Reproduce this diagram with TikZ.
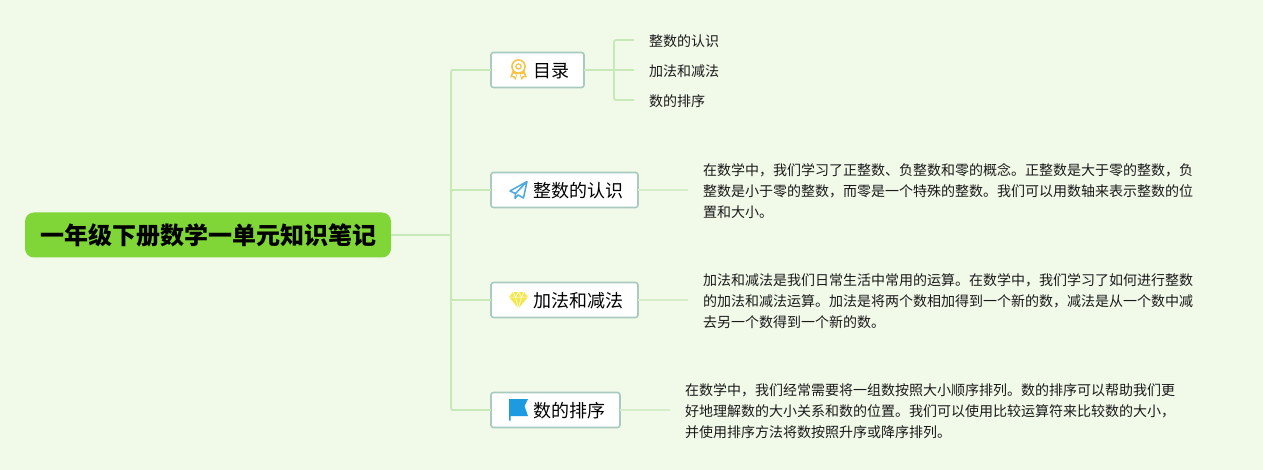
\documentclass[tikz,border=0pt]{standalone}
\usepackage{fontspec}
\setmainfont{Noto Sans CJK SC}
\definecolor{bgc}{HTML}{F1F9E9}
\definecolor{rootc}{HTML}{80D637}
\definecolor{boxline}{HTML}{A9CABF}
\definecolor{lnk}{HTML}{C6E9B7}
\definecolor{lnkb}{HTML}{D5EEC9}
\definecolor{medal}{HTML}{F6C445}
\definecolor{plane}{HTML}{4FA8E0}
\definecolor{gem}{HTML}{F5E84E}
\definecolor{flagc}{HTML}{1E9BE0}
\definecolor{ink}{HTML}{1A1A1A}
\tikzset{
  rootbox/.style={fill=rootc,rounded corners=9pt,minimum width=366pt,minimum height=45pt,inner sep=0pt,outer sep=0pt,
    font=\fontsize{24}{28}\selectfont\bfseries,text=black},
  mainbox/.style={draw=boxline,line width=1.6pt,fill=white,rounded corners=2.5pt,minimum height=35pt,inner sep=0pt,outer sep=0pt,anchor=north west},
  maintext/.style={font=\fontsize{18}{22}\selectfont,text=black,anchor=west,inner sep=0pt},
  subtext/.style={font=\fontsize{14}{18}\selectfont,text=ink,anchor=west,inner sep=0pt},
  longtext/.style={font=\fontsize{14}{21}\selectfont,text=ink,anchor=west,inner sep=0pt,align=left},
  link/.style={draw=lnk,line width=1.8pt,rounded corners=2pt},
  linkb/.style={draw=lnkb,line width=1.8pt,rounded corners=2pt}
}
\begin{document}
\begin{tikzpicture}[x=1pt,y=-1pt]
\useasboundingbox (0,0) rectangle (1263,470);
\fill[bgc] (0,0) rectangle (1263,470);
\node[rootbox] (root) at (208,235) {一年级下册数学一单元知识笔记};
\node[mainbox,minimum width=93pt] (a) at (491,52.5) {};
\node[mainbox,minimum width=147pt] (b) at (491,172.5) {};
\node[mainbox,minimum width=147pt] (c) at (491,282.5) {};
\node[mainbox,minimum width=129pt] (d) at (491,392.5) {};
\node[maintext] (at) at (533,71) {目录};
\node[maintext] (bt) at (533,191) {整数的认识};
\node[maintext] (ct) at (533,301) {加法和减法};
\node[maintext] (dt) at (533,411) {数的排序};
\node[subtext] (s1) at (649,41) {整数的认识};
\node[subtext] (s2) at (649,71) {加法和减法};
\node[subtext] (s3) at (649,101) {数的排序};
\node[longtext] (bl) at (703,191) {在数学中，我们学习了正整数、负整数和零的概念。正整数是大于零的整数，负\\整数是小于零的整数，而零是一个特殊的整数。我们可以用数轴来表示整数的位\\置和大小。};
\node[longtext] (cl) at (703,301) {加法和减法是我们日常生活中常用的运算。在数学中，我们学习了如何进行整数\\的加法和减法运算。加法是将两个数相加得到一个新的数，减法是从一个数中减\\去另一个数得到一个新的数。};
\node[longtext] (dl) at (685,411) {在数学中，我们经常需要将一组数按照大小顺序排列。数的排序可以帮助我们更\\好地理解数的大小关系和数的位置。我们可以使用比较运算符来比较数的大小，\\并使用排序方法将数按照升序或降序排列。};
% connector junctions and free ends
\coordinate (j) at (451,235);
\coordinate (k) at (614,70);
\coordinate (e1) at (634,40);
\coordinate (e2) at (634,70);
\coordinate (e3) at (634,100);
\coordinate (eb) at (688,190);
\coordinate (ec) at (688,300);
\coordinate (ed) at (670,410);
\draw[link] (root.east) -- (j);
\draw[link] (j) |- (a.west);
\draw[link] (j) |- (d.west);
\draw[link] (j) |- (b.west);
\draw[link] (j) |- (c.west);
\draw[link] (a.east) -- (e2);
\draw[link] (k) |- (e1);
\draw[link] (k) |- (e3);
\draw[linkb] (b.east) -- (eb);
\draw[linkb] (c.east) -- (ec);
\draw[linkb] (d.east) -- (ed);
% medal icon
\begin{scope}[shift={(518.5,66.5)}]
\fill[medal] (-5.5,3) -- (-8.5,11) -- (-5.5,10.5) -- (-3,13.5) -- (-1,7) -- cycle;
\fill[medal] (5.5,3) -- (8.5,11) -- (5.5,10.5) -- (3,13.5) -- (1,7) -- cycle;
\fill[white] (-5,7.5) -- (-6.2,9.5) -- (-4,9.2) -- (-3,11) -- (-2,8) -- cycle;
\fill[white] (5,7.5) -- (6.2,9.5) -- (4,9.2) -- (3,11) -- (2,8) -- cycle;
\draw[medal,line width=1.5pt,fill=white] (0,0) circle (6.6);
\draw[medal,line width=1.3pt] (0,0) circle (2.6);
\end{scope}
% paper plane icon
\begin{scope}[shift={(518.5,190)}]
\draw[plane,line width=1.5pt,line join=round] (8.5,-8.5) -- (-8.5,1) -- (-3,3.5) -- (8.5,-8.5) -- (5,8) -- (-0.5,5) -- (-3.5,8.5) -- (-3,3.5);
\end{scope}
% gem icon
\begin{scope}[shift={(518.5,300)}]
\fill[gem] (-5.5,-8) -- (5.5,-8) -- (9.5,-3) -- (0,8.5) -- (-9.5,-3) -- cycle;
\draw[white,line width=0.5pt] (-9.5,-3) -- (9.5,-3) (-5.5,-8) -- (-3,-3) -- (0,-8) -- (3,-3) -- (5.5,-8) (-3,-3) -- (0,8.5) -- (3,-3);
\end{scope}
% flag icon
\begin{scope}[shift={(518.5,409)}]
\fill[flagc] (-9.5,-10) -- (9.5,-10) -- (6,-3) -- (9.5,7) -- (-8,7) -- (-8,11.5) -- (-9.5,11.5) -- cycle;
\end{scope}
\end{tikzpicture}
\end{document}
